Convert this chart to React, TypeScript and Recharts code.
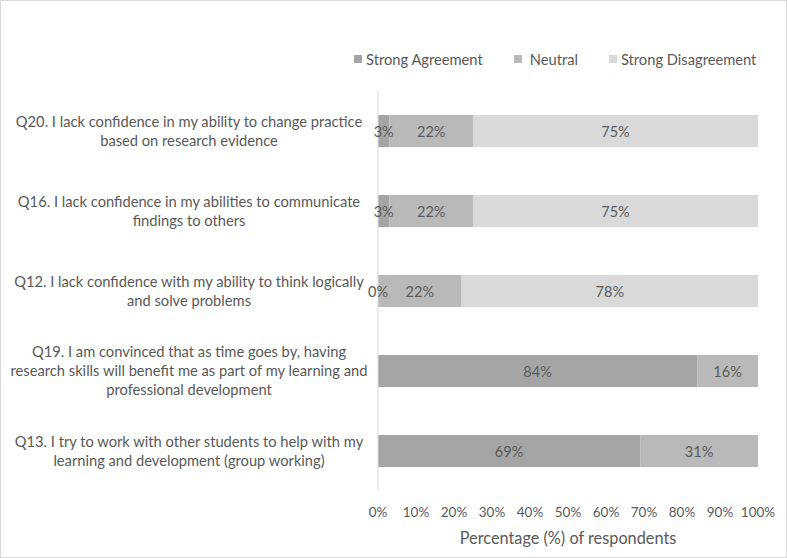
import { Bar, BarChart, LabelList, XAxis, YAxis } from 'recharts'

const questions = [
    "Q20. I lack confidence in my ability to change practice\nbased on research evidence",
    "Q16. I lack confidence in my abilities to communicate\nfindings to others",
    "Q12. I lack confidence with my ability to think logically\nand solve problems",
    "Q19. I am convinced that as time goes by, having\nresearch skills will benefit me as part of my learning and\nprofessional development",
    "Q13. I try to work with other students to help with my\nlearning and development (group working)",
]
const strongAgreement = [3, 3, 0, 84, 69]
const neutral = [22, 22, 22, 16, 31]
const strongDisagreement: (number | null)[] = [75, 75, 78, null, null]
const xTicks = [0, 10, 20, 30, 40, 50, 60, 70, 80, 90, 100]

const series = [
    { key: "agree", name: "Strong Agreement", color: "#a5a5a5" },
    { key: "neutral", name: "Neutral", color: "#b9b9b9" },
    { key: "disagree", name: "Strong Disagreement", color: "#d9d9d9" },
]

const data = questions.map((q, i) => ({
    question: q,
    agree: strongAgreement[i],
    neutral: neutral[i],
    disagree: strongDisagreement[i],
}))

const FONT = "Lato, 'Open Sans', sans-serif"
const TEXT = "#595959"

const QuestionTick = ({ x, y, payload }: any) => {
    const lines = String(payload.value).split("\n")
    const lh = 19
    const start = y - 1 - ((lines.length - 1) * lh) / 2
    return (
        <text x={x - 181} y={start} textAnchor="middle" fill={TEXT} fontSize={14.7} fontFamily={FONT} dominantBaseline="central">
            {lines.map((l, i) => (
                <tspan key={i} x={x - 181} y={start + i * lh}>{l}</tspan>
            ))}
        </text>
    )
}

// draw the value labels ourselves so a 0% segment still gets its label
const SegmentLabel = (props: any) => {
    const { x, y, width, height, value } = props
    if (value == null) return null
    return (
        <text x={Number(x) + Number(width) / 2} y={Number(y) + Number(height) / 2} textAnchor="middle"
            dominantBaseline="central" fill={TEXT} fontSize={14.5} fontFamily={FONT}>
            {`${value}%`}
        </text>
    )
}

export default function App() {
    return (
        <div style={{ position: "absolute", left: 0, top: 0, width: 787, height: 558, boxSizing: "border-box", border: "1px solid #d9d9d9", background: "#fff", fontFamily: FONT }}>
            <div style={{ position: "absolute", top: 49, left: 353, display: "flex", gap: 31, fontSize: 14.7, color: TEXT, lineHeight: "18px" }}>
                {series.map(s => (
                    <div key={s.key} style={{ display: "flex", alignItems: "center", gap: s.key === "neutral" ? 8 : 4 }}>
                        <span style={{ width: 8, height: 8, background: s.color, display: "inline-block" }} />
                        <span>{s.name}</span>
                    </div>
                ))}
            </div>
            <div style={{ position: "absolute", left: -1, top: -1 }}>
                <BarChart width={787} height={558} data={data} layout="vertical" barSize={32}
                    margin={{ top: 91, right: 29, bottom: 0, left: 0 }}>
                    <XAxis type="number" domain={[0, 100]} ticks={xTicks} tickFormatter={(v) => `${v}%`}
                        axisLine={false} tickLine={false} tickMargin={10} height={67} interval={0}
                        tick={{ fill: TEXT, fontSize: 13.5, fontFamily: FONT }}
                        label={{ value: "Percentage (%) of respondents", position: "insideBottom", offset: 14, fill: TEXT, fontSize: 16.3, fontFamily: FONT }} />
                    <YAxis type="category" dataKey="question" width={378} tickLine={false}
                        axisLine={{ stroke: "#d9d9d9" }} tick={<QuestionTick />} interval={0} />
                    {series.map(s => (
                        <Bar key={s.key} dataKey={s.key} name={s.name} stackId="a" fill={s.color}
                            minPointSize={0.01} isAnimationActive={false}>
                            <LabelList dataKey={s.key} content={<SegmentLabel />} />
                        </Bar>
                    ))}
                </BarChart>
            </div>
        </div>
    )
}
